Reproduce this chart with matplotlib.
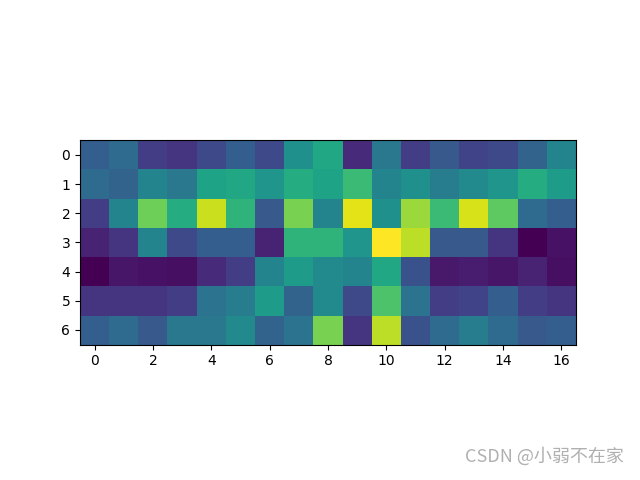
import matplotlib.pyplot as plt
import numpy as np

# cell values (viridis, 0..1)
row0 = [0.30, 0.35, 0.18, 0.15, 0.22, 0.30, 0.22, 0.50, 0.60, 0.12, 0.40, 0.18, 0.28, 0.20, 0.22, 0.32, 0.45]
row1 = [0.35, 0.32, 0.45, 0.40, 0.58, 0.60, 0.52, 0.62, 0.58, 0.68, 0.45, 0.50, 0.42, 0.48, 0.52, 0.62, 0.55]
row2 = [0.18, 0.45, 0.78, 0.62, 0.92, 0.65, 0.28, 0.80, 0.45, 0.96, 0.50, 0.85, 0.68, 0.94, 0.75, 0.35, 0.30]
row3 = [0.10, 0.15, 0.45, 0.22, 0.30, 0.30, 0.10, 0.65, 0.65, 0.52, 1.00, 0.90, 0.28, 0.28, 0.15, 0.00, 0.05]
row4 = [0.00, 0.06, 0.05, 0.04, 0.12, 0.18, 0.45, 0.55, 0.48, 0.45, 0.60, 0.25, 0.07, 0.08, 0.06, 0.10, 0.04]
row5 = [0.15, 0.15, 0.15, 0.18, 0.38, 0.42, 0.55, 0.32, 0.48, 0.22, 0.72, 0.38, 0.18, 0.20, 0.30, 0.18, 0.15]
row6 = [0.30, 0.35, 0.28, 0.40, 0.40, 0.48, 0.32, 0.38, 0.80, 0.15, 0.90, 0.25, 0.35, 0.42, 0.35, 0.28, 0.30]

data = np.array([row0, row1, row2, row3, row4, row5, row6])

fig, ax = plt.subplots(figsize=(6.4, 4.8), dpi=100)
ax.imshow(data, cmap='viridis')
fig.text(0.975, 0.03, 'CSDN @小弱不在家', ha='right', va='bottom',
         fontsize=13, color='#b0b0b0', family=['Noto Sans CJK SC', 'DejaVu Sans'])
fig.savefig('out.png')
